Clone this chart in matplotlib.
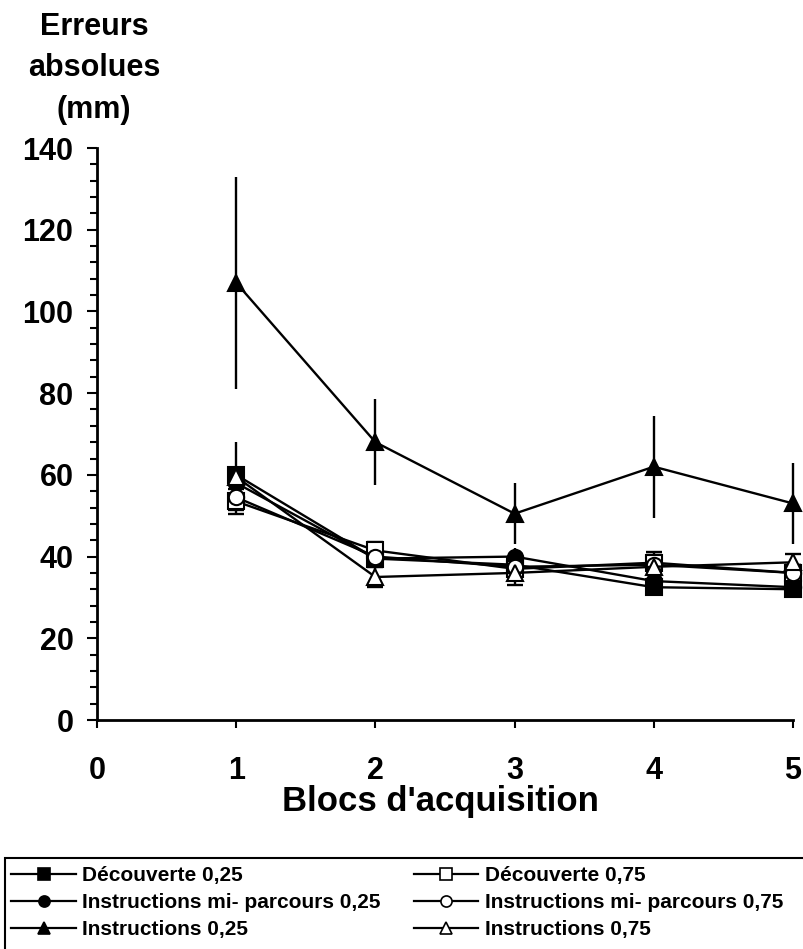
import matplotlib
matplotlib.use("Agg")
import matplotlib.pyplot as plt
from matplotlib.patches import Rectangle
from matplotlib.ticker import MultipleLocator

plt.rcParams['font.family'] = ['Liberation Sans', 'DejaVu Sans']
plt.rcParams['font.weight'] = 'bold'

# Blocs d'acquisition
blocs = [1, 2, 3, 4, 5]

# mean absolute error (mm) and error bars
decouverte_025 = [60, 39.5, 38, 32.5, 32]
decouverte_025_err = [8, 2, 2, 2, 2]
decouverte_075 = [53.5, 41.5, 37, 38.5, 36]
decouverte_075_err = [3, 2, 2, 2.5, 2]
mi_parcours_025 = [58, 39.5, 40, 34, 32.5]
mi_parcours_025_err = [3, 2, 2, 2, 2]
mi_parcours_075 = [54.5, 40, 37.5, 38, 36]
mi_parcours_075_err = [3, 2, 2, 2, 2]
instructions_025 = [107, 68, 50.5, 62, 53]
instructions_025_err = [26, 10.5, 7.5, 12.5, 10]
instructions_075 = [59.5, 35, 36, 37.5, 38.6]
instructions_075_err = [2, 2.5, 3, 3, 2]

fig = plt.figure(figsize=(8.04, 9.49), dpi=100)
ax = fig.add_axes([97 / 804, 1 - 720 / 949, (793 - 97) / 804, (720 - 148) / 949])

series = [
    ("Découverte 0,25", decouverte_025, decouverte_025_err, 's', 'black', 0),
    ("Instructions mi- parcours 0,25", mi_parcours_025, mi_parcours_025_err, 'o', 'black', 0),
    ("Instructions 0,25", instructions_025, instructions_025_err, '^', 'black', 0),
    ("Découverte 0,75", decouverte_075, decouverte_075_err, 's', 'white', 6),
    ("Instructions mi- parcours 0,75", mi_parcours_075, mi_parcours_075_err, 'o', 'white', 6),
    ("Instructions 0,75", instructions_075, instructions_075_err, '^', 'white', 6),
]

handles = []
for label, vals, err, mk, fc, cap in series:
    ax.errorbar(blocs, vals, yerr=err, fmt='none', ecolor='black', elinewidth=1.7,
                capsize=cap, capthick=1.7, clip_on=False, zorder=2)
    ax.plot(blocs, vals, color='black', linewidth=1.7, marker=mk, markersize=11,
            markerfacecolor=fc, markeredgecolor='black', markeredgewidth=1.5,
            clip_on=False, zorder=3)
    leg_ln, = ax.plot([], [], color='black', linewidth=1.6, marker=mk, markersize=8,
                      markerfacecolor=fc, markeredgecolor='black', markeredgewidth=1.2,
                      label=label)
    handles.append(leg_ln)

ax.set_xlim(0, 5)
ax.set_ylim(0, 140)
ax.xaxis.set_major_locator(MultipleLocator(1))
ax.yaxis.set_major_locator(MultipleLocator(20))
ax.yaxis.set_minor_locator(MultipleLocator(4))

for side in ['top', 'right']:
    ax.spines[side].set_visible(False)
for side in ['left', 'bottom']:
    ax.spines[side].set_linewidth(2)

ax.tick_params(axis='y', which='major', direction='out', length=7, width=1.5,
               labelsize=22, pad=10)
ax.tick_params(axis='y', which='minor', direction='out', length=5, width=1.5)
ax.tick_params(axis='x', which='major', direction='out', length=6, width=1.5,
               labelsize=22, pad=20)
for t in ax.get_xticklabels() + ax.get_yticklabels():
    t.set_fontweight('bold')

fig.text(94 / 804, 1 - 12 / 949, "Erreurs\nabsolues\n(mm)", ha='center', va='top',
         fontsize=22, fontweight='bold', linespacing=1.5)
fig.text(440 / 804, 1 - 802 / 949, "Blocs d'acquisition", ha='center', va='center',
         fontsize=25, fontweight='bold')

# legend box runs off the right and bottom edges, as in the original
leg = fig.legend(handles=handles, loc='upper left', bbox_to_anchor=(5 / 804, 1 - 860 / 949),
                 ncol=2, frameon=False, handlelength=3.1,
                 handletextpad=0.3, columnspacing=1.6, borderaxespad=0,
                 borderpad=0.3, labelspacing=0.38,
                 prop={'size': 15, 'weight': 'bold'})
fig.patches.append(Rectangle((5 / 804, -0.02), 1.05, 1 - 858 / 949 + 0.02,
                             transform=fig.transFigure, fill=False,
                             edgecolor='black', linewidth=1.5))

plt.savefig("out.png", dpi=100, facecolor='white')
